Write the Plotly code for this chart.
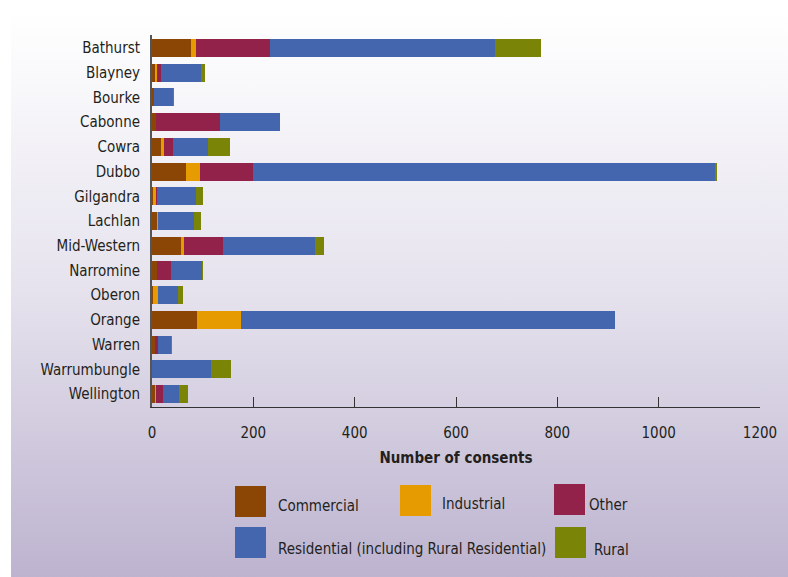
import base64
import plotly.graph_objects as go

councils = ["Bathurst", "Blayney", "Bourke", "Cabonne", "Cowra", "Dubbo", "Gilgandra",
            "Lachlan", "Mid-Western", "Narromine", "Oberon", "Orange", "Warren",
            "Warrumbungle", "Wellington"]
commercial = [77, 6, 4, 7, 17, 68, 1, 10, 58, 10, 2, 89, 6, 0, 6]
industrial = [10, 4, 0, 0, 7, 27, 7, 2, 6, 0, 10, 87, 0, 0, 2]
other = [146, 8, 0, 128, 18, 105, 2, 0, 77, 28, 0, 0, 6, 0, 14]
residential = [443, 79, 38, 118, 69, 912, 77, 70, 181, 61, 40, 737, 26, 116, 32]
rural = [91, 7, 1, 0, 43, 2, 14, 15, 18, 1, 9, 0, 1, 40, 17]

series_names = ["Commercial", "Industrial", "Other",
                "Residential (including Rural Residential)", "Rural"]
series_values = [commercial, industrial, other, residential, rural]
series_colors = ["#8b4504", "#e69b00", "#93224b", "#4466ae", "#7a8406"]

x_ticks = [0, 200, 400, 600, 800, 1000, 1200]
x_title = "Number of consents"

FONT = "Liberation Sans Narrow, DejaVu Sans Condensed, Open Sans, sans-serif"
TXT = "#231f20"

W, H = 788, 577
L, R, T, B = 152, 28, 35, 170
PW, PH = W - L - R, H - T - B


def px(x):  # page pixel -> paper
    return (x - L) / PW


def py(y):
    return (H - B - y) / PH


fig = go.Figure()
for name, vals, col in zip(series_names, series_values, series_colors):
    fig.add_trace(go.Bar(y=councils, x=vals, name=name, orientation="h",
                         marker=dict(color=col, line=dict(width=0)),
                         width=0.73, showlegend=False))

# gradient background panel
svg = ('<svg xmlns="http://www.w3.org/2000/svg" width="100" height="100" preserveAspectRatio="none">'
       '<defs><linearGradient id="g" x1="0" y1="0" x2="0" y2="1">'
       '<stop offset="0" stop-color="#ffffff"/><stop offset="0.5" stop-color="#e5e2ed"/>'
       '<stop offset="1" stop-color="#bdb3cf"/></linearGradient></defs>'
       '<rect width="100" height="100" fill="url(#g)"/></svg>')
src = "data:image/svg+xml;base64," + base64.b64encode(svg.encode()).decode()
fig.add_layout_image(dict(source=src, xref="paper", yref="paper",
                          x=px(11), y=py(12), sizex=(W - 11) / PW, sizey=(H - 12) / PH,
                          xanchor="left", yanchor="top", sizing="stretch", layer="below"))

# custom legend (large square swatches)
legend_layout = [  # swatch left, swatch top, text x, text y (page pixels)
    (235, 486, 276, 506),
    (400, 485, 440, 504),
    (554, 484, 587, 505),
    (235, 527, 276, 549),
    (555, 527, 592, 550),
]
for (sx, sy, tx, ty), name, col in zip(legend_layout, series_names, series_colors):
    fig.add_shape(type="rect", xref="paper", yref="paper",
                  x0=px(sx), x1=px(sx + 31), y0=py(sy), y1=py(sy + 31),
                  fillcolor=col, line=dict(width=0))
    fig.add_annotation(xref="paper", yref="paper", x=px(tx), y=py(ty), text=name,
                       showarrow=False, xanchor="left", yanchor="middle",
                       font=dict(family=FONT, size=15, color=TXT))

fig.update_layout(
    width=W, height=H, barmode="stack",
    margin=dict(l=L, r=R, t=T, b=B, pad=0),
    paper_bgcolor="white", plot_bgcolor="rgba(0,0,0,0)",
    font=dict(family=FONT, size=15, color=TXT),
    bargap=0.27,
)
fig.update_xaxes(range=[0, 1200], tickvals=x_ticks, ticks="inside", ticklen=10,
                 tickcolor="#333333", tickwidth=1, showline=True, linecolor="#333333",
                 linewidth=1, showgrid=False, zeroline=False, ticklabelstandoff=12,
                 title=dict(text="<b>" + x_title + "</b>", standoff=11,
                            font=dict(family=FONT, size=15, color=TXT)),
                 tickfont=dict(family=FONT, size=15, color=TXT))
fig.update_yaxes(autorange=False, range=[14.52, -0.52], showline=True, linecolor="#555555",
                 linewidth=2, ticks="", showgrid=False, ticklabelstandoff=7,
                 tickfont=dict(family=FONT, size=15, color=TXT))

fig.write_html("out.html", config={"displayModeBar": False},
               post_script="document.body.style.margin='0px';")
